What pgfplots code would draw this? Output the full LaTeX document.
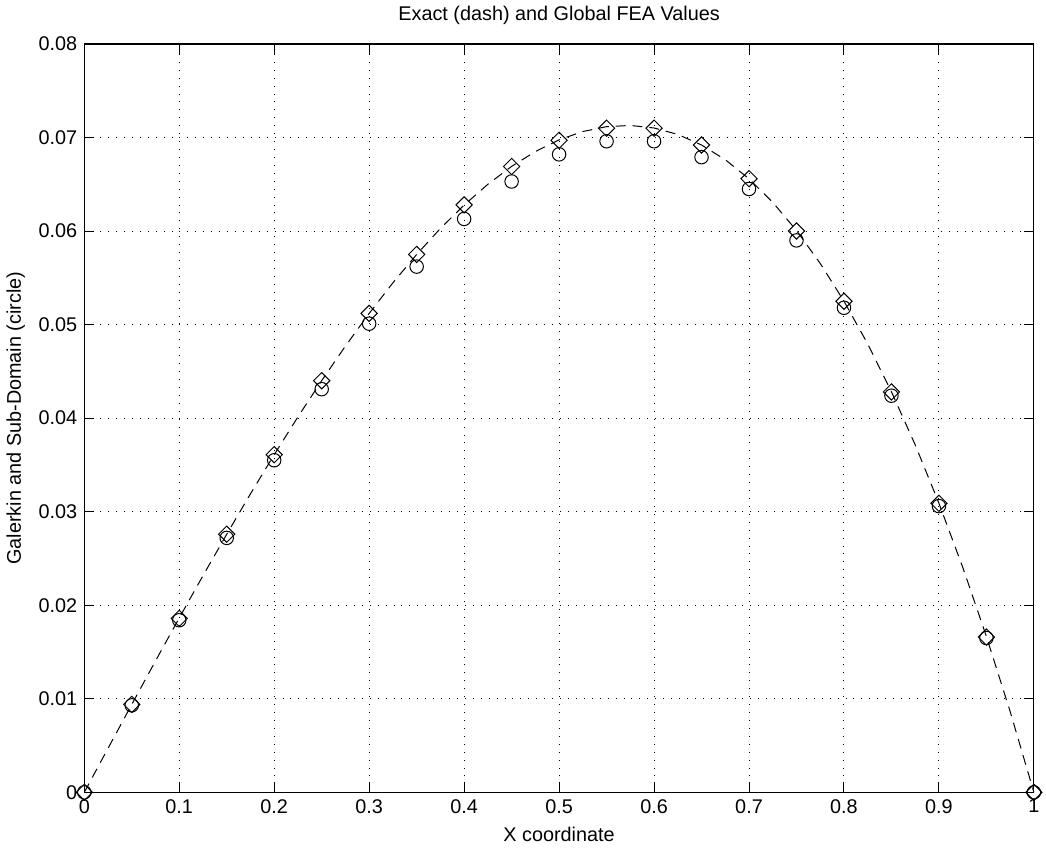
\documentclass[border=0pt]{standalone}
\usepackage{fontspec}
\setmainfont{Liberation Sans}
\usepackage{pgfplots}
\pgfplotsset{compat=1.18}

% exact solution, sampled finely
\pgfplotstableread{
x y
0.000 0.000000
0.025 0.004707
0.050 0.009395
0.075 0.014046
0.100 0.018641
0.125 0.023163
0.150 0.027591
0.175 0.031909
0.200 0.036097
0.225 0.040138
0.250 0.044013
0.275 0.047705
0.300 0.051195
0.325 0.054465
0.350 0.057498
0.375 0.060277
0.400 0.062783
0.425 0.065001
0.450 0.066912
0.475 0.068499
0.500 0.069748
0.525 0.070640
0.550 0.071160
0.575 0.071290
0.600 0.071019
0.625 0.070328
0.650 0.069202
0.675 0.067627
0.700 0.065588
0.725 0.063070
0.750 0.060059
0.775 0.056541
0.800 0.052505
0.825 0.047935
0.850 0.042820
0.875 0.037148
0.900 0.030904
0.925 0.024079
0.950 0.016661
0.975 0.008637
1.000 0.000000
}\exact

% Galerkin (diamond)
\pgfplotstableread{
x y
0.00 0
0.05 0.0094
0.10 0.0186
0.15 0.0276
0.20 0.0361
0.25 0.0440
0.30 0.0512
0.35 0.0575
0.40 0.0628
0.45 0.0669
0.50 0.0697
0.55 0.0710
0.60 0.0710
0.65 0.0692
0.70 0.0656
0.75 0.0600
0.80 0.0525
0.85 0.0428
0.90 0.0309
0.95 0.0166
1.00 0
}\galerkin

% Sub-domain (circle)
\pgfplotstableread{
x y
0.00 0
0.05 0.0093
0.10 0.0184
0.15 0.0272
0.20 0.0355
0.25 0.0431
0.30 0.0501
0.35 0.0562
0.40 0.0613
0.45 0.0653
0.50 0.0682
0.55 0.0696
0.60 0.0696
0.65 0.0679
0.70 0.0645
0.75 0.0590
0.80 0.0518
0.85 0.0424
0.90 0.0306
0.95 0.0165
1.00 0
}\subdomain

\begin{document}
\begin{tikzpicture}
\begin{axis}[
  scale only axis,
  width=479pt, height=377.5pt,
  xmin=0, xmax=1, ymin=0, ymax=0.08,
  scaled x ticks=false, scaled y ticks=false,
  xtick={0,0.1,0.2,0.3,0.4,0.5,0.6,0.7,0.8,0.9,1},
  xticklabels={0,0.1,0.2,0.3,0.4,0.5,0.6,0.7,0.8,0.9,1},
  ytick={0,0.01,0.02,0.03,0.04,0.05,0.06,0.07,0.08},
  yticklabels={0,0.01,0.02,0.03,0.04,0.05,0.06,0.07,0.08},
  tick align=inside,
  major tick length=5pt,
  tick style={black, line width=0.5pt},
  axis line style={line width=0.6pt},
  grid=major,
  grid style={black, line width=0.5pt, dash pattern=on 0.5pt off 3.5pt},
  tick label style={font=\fontsize{10}{12}\selectfont},
  label style={font=\fontsize{10}{12}\selectfont},
  title style={font=\fontsize{10}{12}\selectfont},
  title={Exact (dash) and Global FEA Values},
  xlabel={X coordinate},
  ylabel={Galerkin and Sub-Domain (circle)},
  clip=false,
]
\addplot[black, line width=0.5pt, dash pattern=on 5pt off 3.5pt, mark=none]
  table {\exact};
\addplot[black, only marks, mark=square, mark size=2.9pt,
  mark options={rotate=45, line width=0.5pt}]
  table {\galerkin};
\addplot[black, only marks, mark=o, mark size=3.4pt,
  mark options={line width=0.5pt}]
  table {\subdomain};
\end{axis}
\end{tikzpicture}
\end{document}
